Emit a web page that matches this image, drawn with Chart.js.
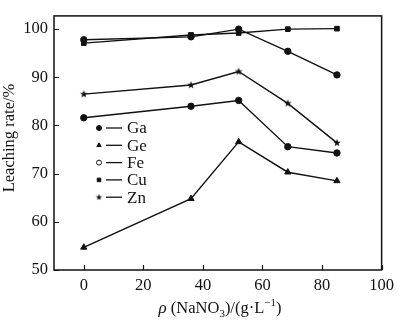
<!DOCTYPE html>
<html>
<head>
<meta charset="utf-8">
<script src="https://cdn.jsdelivr.net/npm/chart.js@4"></script>
<style>
  html, body { margin: 0; padding: 0; background: #fff; }
  #wrap { width: 400px; height: 321px; }
</style>
</head>
<body>
<div id="wrap"><canvas id="c"></canvas></div>
<script>
"use strict";

// ── Data ───────────────────────────────────────────────────────────── //
const nitrate = [0, 36, 52, 68.5, 85];          // g/L
const ga = [81.6, 84.0, 85.2, 75.6, 74.3];
const ge = [54.7, 64.8, 76.6, 70.3, 68.5];
const fe = [97.8, 98.4, 100.0, 95.4, 90.5];
const cu = [97.1, 98.8, 99.2, 100.0, 100.1];
const zn = [86.5, 88.4, 91.2, 84.6, 76.4];
const seriesNames = ["Ga", "Ge", "Fe", "Cu", "Zn"];
const xTicks = [0, 20, 40, 60, 80, 100];
const yTicks = [50, 60, 70, 80, 90, 100];

const FONT = "'Liberation Serif', 'DejaVu Serif', serif";
const INK = "#111";

// filled five-point star for Zn
function starCanvas(r) {
  const size = Math.ceil(r * 2 + 2);
  const cv = document.createElement("canvas");
  cv.width = size; cv.height = size;
  const g = cv.getContext("2d");
  const c = size / 2;
  g.beginPath();
  for (let i = 0; i < 10; i++) {
    const rad = i % 2 ? r * 0.42 : r;
    const a = -Math.PI / 2 + i * Math.PI / 5;
    g[i ? "lineTo" : "moveTo"](c + rad * Math.cos(a), c + rad * Math.sin(a));
  }
  g.closePath();
  g.fillStyle = INK;
  g.fill();
  return cv;
}
const star = starCanvas(4);
const starSmall = starCanvas(3.3);

const styles = [
  { pointStyle: "circle",   radius: 3.2 },
  { pointStyle: "triangle", radius: 3.6 },
  { pointStyle: "circle",   radius: 3.2 },
  { pointStyle: "rect",     radius: 3.3 },
  { pointStyle: star,       radius: 4 },
];

const datasets = [ga, ge, fe, cu, zn].map((vals, i) => ({
  label: seriesNames[i],
  data: vals.map((v, j) => ({ x: nitrate[j], y: v })),
  borderColor: INK,
  backgroundColor: INK,
  borderWidth: 1.4,
  pointBackgroundColor: INK,
  pointBorderColor: INK,
  pointBorderWidth: 1,
  pointStyle: styles[i].pointStyle,
  pointRadius: styles[i].radius,
  tension: 0,
}));

// ── Frame, inward ticks, titles, legend ────────────────────────────── //
const decor = {
  id: "decor",
  afterDraw(chart) {
    const { ctx, chartArea: a, scales } = chart;
    ctx.save();
    ctx.strokeStyle = INK;
    ctx.lineWidth = 1.5;
    ctx.strokeRect(a.left, a.top, a.right - a.left, a.bottom - a.top);

    ctx.lineWidth = 1.2;
    ctx.beginPath();
    xTicks.forEach(v => {
      const px = Math.round(scales.x.getPixelForValue(v)) + 0.5;
      ctx.moveTo(px, a.bottom); ctx.lineTo(px, a.bottom - 5);
    });
    yTicks.forEach(v => {
      const py = Math.round(scales.y.getPixelForValue(v)) + 0.5;
      ctx.moveTo(a.left, py); ctx.lineTo(a.left + 5, py);
    });
    ctx.stroke();

    // y title
    ctx.fillStyle = INK;
    ctx.font = `16.5px ${FONT}`;
    ctx.textAlign = "center";
    ctx.textBaseline = "middle";
    ctx.save();
    ctx.translate(10, 138);
    ctx.rotate(-Math.PI / 2);
    ctx.fillText("Leaching rate/%", 0, 0);
    ctx.restore();

    // x title with italic rho, subscript and superscript
    const parts = [
      { t: "\u03c1", f: `italic 17px ${FONT}`, dy: 0 },
      { t: " (NaNO", f: `16.5px ${FONT}`, dy: 0 },
      { t: "3", f: `11px ${FONT}`, dy: 4 },
      { t: ")/(g\u00b7L", f: `16.5px ${FONT}`, dy: 0 },
      { t: "\u22121", f: `11px ${FONT}`, dy: -7 },
      { t: ")", f: `16.5px ${FONT}`, dy: 0 },
    ];
    let total = 0;
    parts.forEach(p => { ctx.font = p.f; p.w = ctx.measureText(p.t).width; total += p.w; });
    let x = 220 - total / 2;
    ctx.textAlign = "left";
    ctx.textBaseline = "alphabetic";
    parts.forEach(p => { ctx.font = p.f; ctx.fillText(p.t, x, 313 + p.dy); x += p.w; });

    // legend
    chart.data.datasets.forEach((ds, i) => {
      const y = 128 + i * 17.3;
      ctx.lineWidth = 1;
      ctx.strokeStyle = INK;
      ctx.fillStyle = i === 2 ? "#fff" : INK;
      Chart.helpers.drawPoint(ctx, {
        pointStyle: i === 4 ? starSmall : ds.pointStyle, radius: i === 4 ? 3.3 : 2.5,
        rotation: 0, borderWidth: 1,
      }, 99, y);
      ctx.lineWidth = 1.3;
      ctx.beginPath();
      ctx.moveTo(106, y); ctx.lineTo(122, y);
      ctx.stroke();
      ctx.fillStyle = INK;
      ctx.font = `17px ${FONT}`;
      ctx.textBaseline = "middle";
      ctx.fillText(ds.label, 127, y + 1);
    });
    ctx.restore();
  },
};

new Chart(document.getElementById("c"), {
  type: "line",
  data: { datasets },
  options: {
    responsive: true,
    maintainAspectRatio: false,
    animation: false,
    layout: { padding: { top: 2, right: 12, left: 0, bottom: 0 } },
    plugins: { legend: { display: false }, tooltip: { enabled: false } },
    scales: {
      x: {
        type: "linear",
        min: -10, max: 100,
        afterBuildTicks: s => { s.ticks = xTicks.map(v => ({ value: v })); },
        afterFit: s => { s.height = 51; },
        grid: { display: false, drawTicks: false },
        border: { display: false },
        ticks: { color: INK, padding: 6, font: { family: FONT, size: 16.5 }, maxRotation: 0 },
      },
      y: {
        min: 50, max: 102.75,
        afterBuildTicks: s => { s.ticks = yTicks.map(v => ({ value: v })); },
        afterFit: s => { s.width = 54; },
        grid: { display: false, drawTicks: false },
        border: { display: false },
        ticks: { color: INK, padding: 6, font: { family: FONT, size: 16.5 } },
      },
    },
  },
  plugins: [decor],
});
</script>
</body>
</html>
